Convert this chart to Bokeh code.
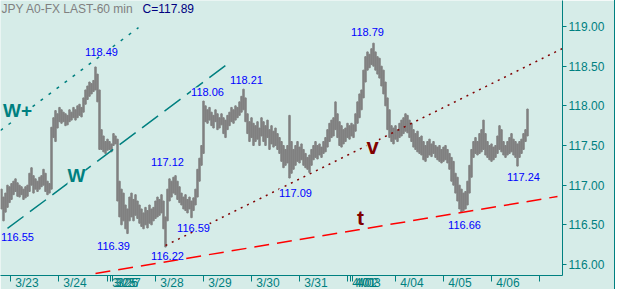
from bokeh.plotting import figure
from bokeh.models import Range1d, FixedTicker, NumeralTickFormatter, Label
from bokeh.embed import file_html
from bokeh.resources import INLINE

BG = "#d6ece8"
TEAL = "#008080"
GREY = "#808080"
FONT = "Liberation Sans"

# ---------------- data: hourly bars (high / low) ----------------
high = [
    116.95, 116.85, 116.90, 117.00, 116.98, 117.02, 117.05, 117.08, 117.03, 117.00,
    116.98, 116.95, 116.98, 117.00, 117.15, 117.22, 117.12, 117.08, 117.05, 117.10,
    117.12, 117.20, 117.15, 117.05, 117.02, 117.73, 117.85, 117.94, 117.90, 117.98,
    117.95, 117.92, 117.90, 117.88, 117.95, 117.92, 117.98, 117.95, 118.00, 118.02,
    117.98, 118.10, 118.20, 118.25, 118.30, 118.28, 118.32, 118.49, 118.40, 118.20,
    117.70, 117.62, 117.55, 117.58, 117.55, 117.52, 117.65, 117.62, 117.58, 117.05,
    116.95, 116.90, 116.75, 116.70, 116.85, 116.90, 116.82, 116.88, 116.80, 116.75,
    116.70, 116.65, 116.72, 116.68, 116.75, 116.70, 116.72, 116.80, 116.85, 116.82,
    116.88, 116.80, 116.60, 116.95, 117.08, 117.05, 117.10, 117.12, 117.05, 116.98,
    116.90, 116.85, 116.88, 116.82, 116.85, 116.80, 116.84, 116.95, 117.20, 117.34,
    117.50, 118.06, 118.00, 117.95, 117.98, 117.92, 117.88, 117.95, 117.90, 117.85,
    117.90, 117.85, 117.82, 117.88, 117.92, 117.98, 117.95, 118.00, 117.98, 118.05,
    118.12, 118.21, 118.10, 117.90, 117.80, 117.85, 117.78, 117.75, 117.80, 117.72,
    117.85, 117.80, 117.75, 117.82, 117.70, 117.75, 117.68, 117.72, 117.65, 117.60,
    117.55, 117.50, 117.45, 117.50, 117.88, 117.55, 117.45, 117.50, 117.55, 117.48,
    117.52, 117.45, 117.40, 117.35, 117.38, 117.45, 117.50, 117.55, 117.50, 117.52,
    117.48, 117.55, 117.60, 117.70, 117.78, 117.82, 117.85, 118.05, 117.90, 117.80,
    117.75, 117.70, 117.72, 117.78, 117.75, 117.78, 117.76, 117.90, 118.05, 118.15,
    118.20, 118.45, 118.62, 118.68, 118.65, 118.72, 118.79, 118.68, 118.62, 118.60,
    118.50, 118.45, 118.30, 118.10, 117.95, 117.75, 117.72, 117.75, 117.70, 117.78,
    117.82, 117.85, 117.90, 117.88, 117.82, 117.78, 117.70, 117.65, 117.68, 117.60,
    117.62, 117.55, 117.50, 117.55, 117.58, 117.52, 117.55, 117.50, 117.48, 117.50,
    117.45, 117.48, 117.50, 117.45, 117.40, 117.35, 117.30, 117.15, 117.10, 117.00,
    116.95, 116.90, 116.92, 117.05, 117.25, 117.45, 117.55, 117.60, 117.55, 117.65,
    117.70, 117.82, 117.65, 117.55, 117.50, 117.52, 117.48, 117.50, 117.62, 117.75,
    117.70, 117.55, 117.50, 117.55, 117.60, 117.65, 117.58, 117.55, 117.52, 117.55,
    117.58, 117.65, 117.70, 117.96,
]
low = [
    116.70, 116.55, 116.66, 116.72, 116.78, 116.82, 116.88, 116.92, 116.86, 116.85,
    116.88, 116.82, 116.84, 116.86, 116.92, 117.00, 116.90, 116.95, 116.92, 116.95,
    116.98, 117.00, 116.92, 116.88, 116.90, 116.95, 117.60, 117.55, 117.72, 117.80,
    117.78, 117.80, 117.75, 117.76, 117.80, 117.82, 117.85, 117.82, 117.85, 117.88,
    117.86, 117.92, 118.02, 118.08, 118.12, 118.15, 118.18, 118.20, 118.05, 117.45,
    117.45, 117.42, 117.40, 117.44, 117.45, 117.42, 117.50, 117.52, 116.80, 116.60,
    116.50, 116.55, 116.45, 116.39, 116.55, 116.60, 116.55, 116.62, 116.58, 116.52,
    116.48, 116.45, 116.50, 116.46, 116.52, 116.50, 116.55, 116.58, 116.60, 116.62,
    116.65, 116.45, 116.22, 116.55, 116.80, 116.85, 116.90, 116.88, 116.82, 116.78,
    116.75, 116.70, 116.68, 116.65, 116.70, 116.59, 116.68, 116.75, 116.85, 117.05,
    117.25, 117.40, 117.80, 117.78, 117.82, 117.75, 117.72, 117.80, 117.70, 117.72,
    117.76, 117.65, 117.60, 117.70, 117.75, 117.80, 117.78, 117.82, 117.85, 117.88,
    117.92, 117.95, 117.80, 117.65, 117.55, 117.60, 117.50, 117.55, 117.58, 117.50,
    117.62, 117.55, 117.50, 117.60, 117.45, 117.52, 117.48, 117.50, 117.45, 117.40,
    117.30, 117.22, 117.25, 117.28, 117.09, 117.15, 117.20, 117.25, 117.30, 117.28,
    117.32, 117.25, 117.22, 117.20, 117.16, 117.25, 117.32, 117.35, 117.33, 117.38,
    117.35, 117.40, 117.42, 117.48, 117.55, 117.60, 117.62, 117.70, 117.60, 117.50,
    117.48, 117.52, 117.55, 117.60, 117.58, 117.62, 117.60, 117.68, 117.78, 117.85,
    117.95, 118.10, 118.30, 118.45, 118.48, 118.52, 118.50, 118.45, 118.40, 118.35,
    118.25, 118.15, 118.00, 117.70, 117.60, 117.55, 117.52, 117.58, 117.55, 117.60,
    117.62, 117.65, 117.68, 117.66, 117.60, 117.55, 117.48, 117.45, 117.42, 117.40,
    117.38, 117.32, 117.30, 117.35, 117.38, 117.36, 117.40, 117.35, 117.32, 117.30,
    117.28, 117.30, 117.32, 117.28, 117.20, 117.05, 117.00, 116.90, 116.80, 116.70,
    116.66, 116.68, 116.70, 116.75, 116.90, 117.10, 117.35, 117.40, 117.38, 117.40,
    117.42, 117.45, 117.38, 117.35, 117.32, 117.30, 117.32, 117.35, 117.40, 117.45,
    117.42, 117.38, 117.35, 117.38, 117.40, 117.42, 117.38, 117.35, 117.24, 117.35,
    117.40, 117.45, 117.55, 117.62,
]
bar_index = list(range(len(high)))
last_close = 117.89

# session starts (bar units) and their date labels
day_labels = ["3/23", "3/24", "3/25", "3/26", "3/27", "3/28", "3/29", "3/30",
              "3/31", "4/01", "4/02", "4/03", "4/04", "4/05", "4/06"]
day_start = [4.5, 28.5, 53, 54.25, 55.5, 77, 101, 125,
             149, 173, 174.25, 175.5, 197, 221, 245]
next_day_start = [269]

price_ticks = [116.0, 116.5, 117.0, 117.5, 118.0, 118.5, 119.0]

# trend lines: (bar, price) endpoints
teal_upper = dict(x0=[-0.5], y0=[117.689], x1=[68.5], y1=[118.987])
teal_lower = dict(x0=[3.0], y0=[116.454], x1=[112.0], y1=[118.508])
v_line = dict(x0=[82.0], y0=[116.239], x1=[280.5], y1=[118.723])
t_line = dict(x0=[47.0], y0=[115.886], x1=[278.0], y1=[116.857])

# price annotations
price_labels = ["118.49", "118.21", "118.06", "117.12", "116.55", "116.39",
                "116.59", "116.22", "117.09", "118.79", "116.66", "117.24"]
# ---------------------------------------------------------------

FW, FH = 562, 275
X0, X1 = -0.5, 280.5
YMAX = 119 + 26 / 79.33
YMIN = YMAX - FH / 79.33


def px2x(px):
    return X0 + px * (X1 - X0) / FW


def px2y(py):
    return YMAX - py * (YMAX - YMIN) / FH


p = figure(frame_width=FW, frame_height=FH,
           x_range=Range1d(X0, X1), y_range=Range1d(YMIN, YMAX),
           y_axis_location="right", output_backend="svg", toolbar_location=None,
           min_border_left=0, min_border_top=0, min_border_bottom=0,
           min_border_right=52,
           background_fill_color=BG, border_fill_color=BG,
           outline_line_color=None)
p.grid.visible = False
p.styles = {"border-right": "1px solid #008080"}

# x axis: day ticks as minor ticks, labels as (hidden-tick) major ticks
label_pos = [d + 8.25 for d in day_start]
xa = p.xaxis[0]
xa.ticker = FixedTicker(ticks=label_pos, minor_ticks=day_start + next_day_start)
xa.major_label_overrides = {pos: lab for pos, lab in zip(label_pos, day_labels)}
xa.major_tick_line_color = None
xa.major_tick_out = 0
xa.major_tick_in = 0
xa.minor_tick_out = 6
xa.minor_tick_in = 0
xa.minor_tick_line_color = TEAL
xa.axis_line_color = TEAL
xa.major_label_text_color = TEAL
xa.major_label_text_font = FONT
xa.major_label_text_font_size = "12px"
xa.major_label_standoff = -6

ya = p.yaxis[0]
ya.ticker = FixedTicker(ticks=price_ticks)
ya.formatter = NumeralTickFormatter(format="0.00")
ya.major_tick_out = 4
ya.major_tick_in = 0
ya.minor_tick_line_color = None
ya.major_tick_line_color = TEAL
ya.axis_line_color = TEAL
ya.major_label_text_color = TEAL
ya.major_label_text_font = FONT
ya.major_label_text_font_size = "12px"
ya.major_label_standoff = 2

# bars
p.vbar(x=bar_index, bottom=low, top=high, width=0.7, color=GREY)

# trend lines
p.segment(**teal_upper, line_color=TEAL, line_width=1.5, line_dash="3 7")
p.segment(**teal_lower, line_color=TEAL, line_width=1.5, line_dash="20 8")
p.segment(**v_line, line_color="#800000", line_width=1.5, line_dash="2 5")
p.segment(**t_line, line_color="#ff0000", line_width=1.5, line_dash="15 8")

# price labels (pixel-placed)
label_px = [(101, 51), (246, 79), (207, 91), (167, 161), (17, 236), (113, 245),
            (193, 227), (167, 255), (295, 192), (367, 31), (464, 224), (523, 176)]
for txt, (lx, ly) in zip(price_labels, label_px):
    p.add_layout(Label(x=px2x(lx), y=px2y(ly), text=txt, text_align="center",
                       text_baseline="middle", text_font=FONT,
                       text_font_size="11px", text_color="#0000ff",
                       background_fill_color=BG))

# wave labels
waves = [("W+", 17, 110, TEAL, "19px"), ("W", 76, 175, TEAL, "19px"),
         ("v", 372, 146, "#800000", "22px"), ("t", 360, 217, "#800000", "21px")]
for txt, lx, ly, col, fs in waves:
    p.add_layout(Label(x=px2x(lx), y=px2y(ly), text=txt, text_align="center",
                       text_baseline="middle", text_font=FONT, text_font_style="bold",
                       text_font_size=fs, text_color=col,
                       background_fill_color=BG))

# title
p.add_layout(Label(x=px2x(1), y=px2y(8.5), text="JPY A0-FX LAST-60 min",
                   text_align="left", text_baseline="middle", text_font=FONT,
                   text_font_size="12px", text_color=GREY))
p.add_layout(Label(x=px2x(142), y=px2y(8.5), text="C=%.2f" % last_close,
                   text_align="left", text_baseline="middle", text_font=FONT,
                   text_font_size="12px", text_color="#000080"))

open("out.html", "w").write(file_html(p, INLINE))
